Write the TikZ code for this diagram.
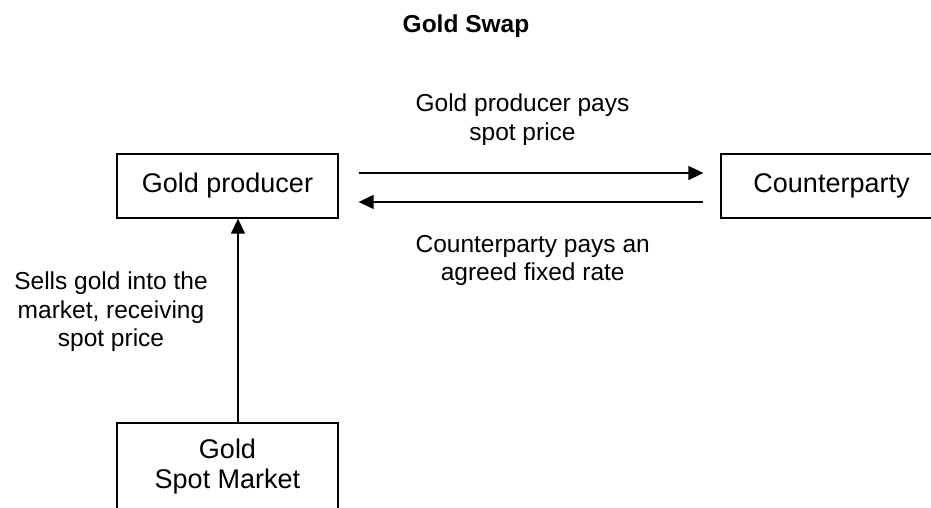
\documentclass[tikz,border=0pt]{standalone}
\usepackage{fontspec}
\setmainfont{Liberation Sans}
\usetikzlibrary{arrows.meta,calc}
\begin{document}
\begin{tikzpicture}[x=1pt,y=-1pt,
  box/.style={draw,line width=1.3pt,minimum width=221pt,minimum height=64pt,inner sep=0pt,align=center,font=\fontsize{27}{30}\selectfont},
  lbl/.style={anchor=base,inner sep=0pt,align=center,font=\fontsize{24.5}{28.2}\selectfont},
  flow/.style={line width=1.3pt,-{Triangle[length=15pt,width=14pt]}}]
\useasboundingbox (0,0) rectangle (931,508);
\clip (0,0) rectangle (931,508);
\node[anchor=base,inner sep=0pt,font=\bfseries\fontsize{24.5}{28}\selectfont] (title) at (466,32.7) {Gold Swap};
\node[box] (gp) at (227.5,186) {\raisebox{-3pt}{Gold producer}};
\node[box] (cp) at (831.5,186) {\raisebox{-3pt}{Counterparty}};
\node[box,minimum height=88pt] (sm) at (227.5,467) {Gold\\Spot Market};
\draw[flow] ($(gp.east)+(20,-13)$) -- ($(cp.west)+(-17,-13)$);
\draw[flow] ($(cp.west)+(-17,16)$) -- ($(gp.east)+(20,16)$);
\draw[flow] ($(sm.north)+(10.5,0)$) -- ($(gp.south)+(10.5,0)$);
\node[lbl] (l1) at (522.5,140) {Gold producer pays\\spot price};
\node[lbl] (l2) at (532.7,280.5) {Counterparty pays an\\agreed fixed rate};
\node[lbl] (l3) at (111,346.3) {Sells gold into the\\market, receiving\\spot price};
\end{tikzpicture}
\end{document}
